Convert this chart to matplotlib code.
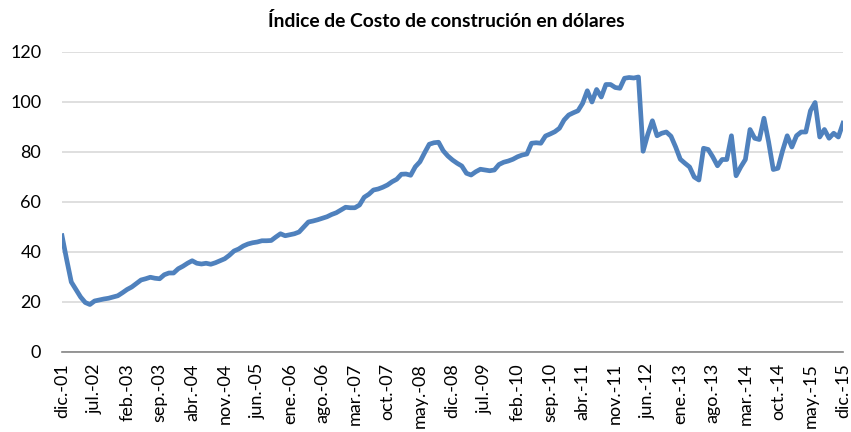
import matplotlib
matplotlib.use("Agg")
import matplotlib.pyplot as plt

# Índice mensual, dic-01 .. dic-15
indice = [
    46.5, 37.0, 28.0, 25.0, 22.0, 19.8, 19.0, 20.4, 20.8, 21.2,
    21.5, 22.0, 22.5, 23.7, 25.0, 26.0, 27.4, 28.8, 29.3, 29.9,
    29.5, 29.3, 30.9, 31.6, 31.6, 33.3, 34.3, 35.5, 36.5, 35.5,
    35.2, 35.5, 35.1, 35.7, 36.5, 37.3, 38.7, 40.4, 41.2, 42.4,
    43.2, 43.7, 44.0, 44.5, 44.5, 44.6, 46.0, 47.3, 46.5, 46.9,
    47.3, 48.0, 50.0, 52.0, 52.4, 52.9, 53.5, 54.1, 55.0, 55.7,
    56.8, 57.9, 57.7, 57.7, 58.8, 61.9, 63.1, 64.8, 65.2, 65.9,
    66.8, 68.1, 69.1, 71.1, 71.2, 70.7, 74.1, 76.1, 79.7, 83.1,
    83.7, 83.9, 80.5, 78.4, 76.8, 75.5, 74.4, 71.5, 70.8, 72.1,
    73.1, 72.8, 72.5, 72.8, 75.0, 75.9, 76.4, 77.1, 78.1, 78.8,
    79.2, 83.5, 83.7, 83.5, 86.4, 87.2, 88.1, 89.5, 92.8, 94.8,
    95.7, 96.5, 99.5, 104.5, 100.0, 105.0, 102.0, 107.0, 107.0, 105.8,
    105.5, 109.5, 109.8, 109.6, 110.0, 80.3, 87.0, 92.5, 86.5, 87.5,
    88.0, 86.3, 82.0, 77.1, 75.5, 74.0, 70.0, 68.8, 81.5, 81.0,
    78.0, 74.5, 77.0, 77.0, 86.5, 70.5, 74.0, 77.0, 89.0, 85.5,
    85.0, 93.5, 84.0, 73.0, 73.5, 80.5, 86.5, 82.0, 86.5, 88.0,
    88.0, 96.5, 99.8, 86.0, 89.0, 85.5, 87.5, 86.0, 91.5,
]

# Etiquetas del eje x (cada 7 meses)
etiquetas = [
    "dic.-01", "jul.-02", "feb.-03", "sep.-03", "abr.-04", "nov.-04",
    "jun.-05", "ene.-06", "ago.-06", "mar.-07", "oct.-07", "may.-08",
    "dic.-08", "jul.-09", "feb.-10", "sep.-10", "abr.-11", "nov.-11",
    "jun.-12", "ene.-13", "ago.-13", "mar.-14", "oct.-14", "may.-15",
    "dic.-15",
]

plt.rcParams['font.family'] = ['Lato', 'DejaVu Sans']

fig = plt.figure(figsize=(8.51, 4.32), dpi=100)
ax = fig.add_axes([62 / 851, 1 - 352 / 432, 781 / 851, 300 / 432])

meses = range(len(indice))
ax.plot(meses, indice, color='#4F81BD', linewidth=3.4, solid_joinstyle='round')

ax.set_xlim(0, len(indice) - 1)
ax.set_ylim(0, 120)
ax.set_yticks(range(0, 121, 20))
ax.set_xticks(range(0, len(indice), 7))
ax.set_xticklabels(etiquetas, rotation=90, fontsize=13)
ax.tick_params(axis='y', labelsize=13, length=0, pad=15)
ax.tick_params(axis='x', length=0, pad=8)

ax.grid(axis='y', color='#D9D9D9', linewidth=1.2)
ax.set_axisbelow(True)
for s in ['top', 'right', 'left']:
    ax.spines[s].set_visible(False)
ax.spines['bottom'].set_color('#868686')
ax.spines['bottom'].set_linewidth(1.2)

fig.text(446 / 851, 1 - 21 / 432, 'Índice de Costo de construción en dólares',
         ha='center', va='center', fontsize=13.9, fontweight='bold')

fig.savefig('out.png', dpi=100)
